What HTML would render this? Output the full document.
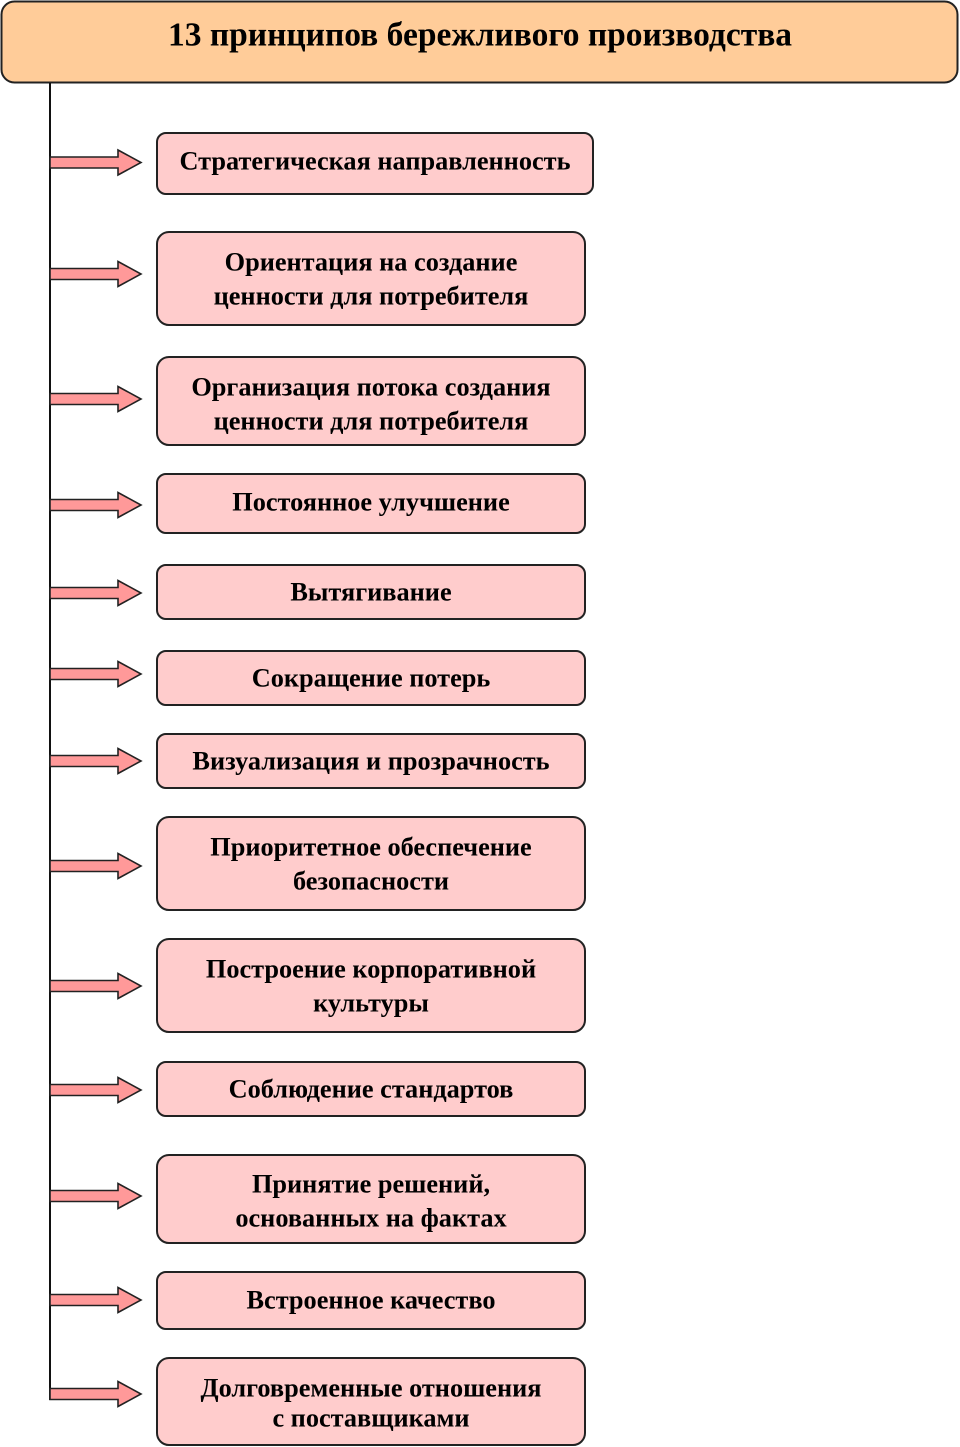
<!DOCTYPE html>
<html><head><meta charset="utf-8"><style>
html,body{margin:0;padding:0;background:#fff;}
svg{display:block;}
text{font-family:"Liberation Serif",serif;font-weight:bold;fill:#000;}
</style></head><body>
<svg width="960" height="1447" viewBox="0 0 960 1447" xmlns="http://www.w3.org/2000/svg">
<rect x="1.5" y="1.5" width="956" height="81" rx="13" fill="#FFCC99" stroke="#222" stroke-width="2"/>
<text x="480" y="35" font-size="33.5" text-anchor="middle" dominant-baseline="central">13 принципов бережливого производства</text>
<line x1="50" y1="83" x2="50" y2="1400" stroke="#111" stroke-width="2"/>
<g fill="#FF9999" stroke="#222" stroke-width="1.6">
<polygon points="50,157 118,157 118,150 141,162.5 118,175 118,168 50,168"/>
<polygon points="50,268.5 118,268.5 118,261.5 141,274 118,286.5 118,279.5 50,279.5"/>
<polygon points="50,393.5 118,393.5 118,386.5 141,399 118,411.5 118,404.5 50,404.5"/>
<polygon points="50,499.5 118,499.5 118,492.5 141,505 118,517.5 118,510.5 50,510.5"/>
<polygon points="50,587.5 118,587.5 118,580.5 141,593 118,605.5 118,598.5 50,598.5"/>
<polygon points="50,668.5 118,668.5 118,661.5 141,674 118,686.5 118,679.5 50,679.5"/>
<polygon points="50,755.5 118,755.5 118,748.5 141,761 118,773.5 118,766.5 50,766.5"/>
<polygon points="50,860.5 118,860.5 118,853.5 141,866 118,878.5 118,871.5 50,871.5"/>
<polygon points="50,980.5 118,980.5 118,973.5 141,986 118,998.5 118,991.5 50,991.5"/>
<polygon points="50,1084.5 118,1084.5 118,1077.5 141,1090 118,1102.5 118,1095.5 50,1095.5"/>
<polygon points="50,1190.5 118,1190.5 118,1183.5 141,1196 118,1208.5 118,1201.5 50,1201.5"/>
<polygon points="50,1294.5 118,1294.5 118,1287.5 141,1300 118,1312.5 118,1305.5 50,1305.5"/>
<polygon points="50,1388.5 118,1388.5 118,1381.5 141,1394 118,1406.5 118,1399.5 50,1399.5"/>
</g>
<g fill="#FFCCCC" stroke="#222" stroke-width="2">
<rect x="157" y="133" width="436" height="61" rx="9"/>
<rect x="157" y="232" width="428" height="93" rx="12"/>
<rect x="157" y="357" width="428" height="88" rx="12"/>
<rect x="157" y="474" width="428" height="59" rx="9"/>
<rect x="157" y="565" width="428" height="54" rx="9"/>
<rect x="157" y="651" width="428" height="54" rx="9"/>
<rect x="157" y="734" width="428" height="54" rx="9"/>
<rect x="157" y="817" width="428" height="93" rx="12"/>
<rect x="157" y="939" width="428" height="93" rx="12"/>
<rect x="157" y="1062" width="428" height="54" rx="9"/>
<rect x="157" y="1155" width="428" height="88" rx="12"/>
<rect x="157" y="1272" width="428" height="57" rx="9"/>
<rect x="157" y="1358" width="428" height="87" rx="12"/>
</g>
<g font-size="26.3" text-anchor="middle" dominant-baseline="central">
<text x="375" y="161">Стратегическая направленность</text>
<text x="371" y="262">Ориентация на создание</text>
<text x="371" y="296">ценности для потребителя</text>
<text x="371" y="387">Организация потока создания</text>
<text x="371" y="421">ценности для потребителя</text>
<text x="371" y="502">Постоянное улучшение</text>
<text x="371" y="592">Вытягивание</text>
<text x="371" y="678">Сокращение потерь</text>
<text x="371" y="761">Визуализация и прозрачность</text>
<text x="371" y="847">Приоритетное обеспечение</text>
<text x="371" y="881">безопасности</text>
<text x="371" y="969">Построение корпоративной</text>
<text x="371" y="1003">культуры</text>
<text x="371" y="1089">Соблюдение стандартов</text>
<text x="371" y="1184">Принятие решений,</text>
<text x="371" y="1218">основанных на фактах</text>
<text x="371" y="1300">Встроенное качество</text>
<text x="371" y="1388">Долговременные отношения</text>
<text x="371" y="1418">с поставщиками</text>
</g>
</svg>
</body></html>
